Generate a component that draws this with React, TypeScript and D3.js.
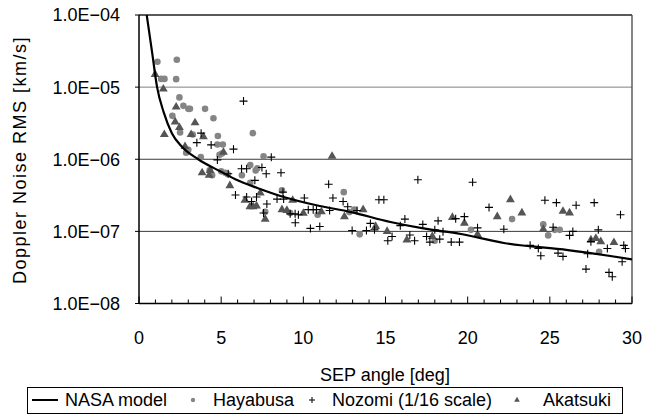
import React from "react";
import * as d3 from "d3";

const W = 651;
const H = 416;

const yTickValues = [1e-4, 1e-5, 1e-6, 1e-7, 1e-8];
const yTickLabels = ["1.0E\u221204", "1.0E\u221205", "1.0E\u221206", "1.0E\u221207", "1.0E\u221208"];
const xTickValues = [0, 5, 10, 15, 20, 25, 30];
const gridValues = [1e-5, 1e-6, 1e-7];

const legendLabels = ["NASA model", "Hayabusa", "Nozomi (1/16 scale)", "Akatsuki"];

// NASA model curve
const modelX = [0.47, 0.8, 1.1, 1.5, 2.0, 2.6, 3.6, 5.0, 6.0, 7.2, 8.8, 10.8, 12.9, 15.3, 17.3, 19.6, 22.2, 26.1, 30];
const modelY = [1e-4, 3e-5, 1e-5, 4.5e-6, 2.3e-6, 1.5e-6, 1.0e-6, 6.7e-7, 5.1e-7, 4.0e-7, 3.0e-7, 2.3e-7, 1.85e-7, 1.35e-7, 1.1e-7, 9.2e-8, 6.9e-8, 5.5e-8, 4.1e-8];

// Hayabusa (circles)
const hayabusaX = [1.12, 2.3, 1.35, 1.55, 2.26, 2.46, 2.7, 3.0, 3.1, 4.02, 2.03, 4.53, 2.5, 3.27, 4.8, 6.93, 4.77, 5.1, 2.87, 3.76, 4.9, 5.05, 7.58, 3.0, 4.3, 4.45, 5.0, 5.25, 5.4, 6.26, 6.77, 7.1, 7.2, 6.77, 8.7, 7.68, 12.46, 13.1, 12.8, 10.87, 9.2, 13.43, 17.99, 22.7, 20.2, 24.6, 24.9, 25.3, 25.6, 28.0];
const hayabusaY = [2.25e-5, 2.4e-5, 1.3e-5, 1.3e-5, 1.29e-5, 7.2e-6, 5.5e-6, 5e-6, 5e-6, 5e-6, 4e-6, 3.7e-6, 2.35e-6, 2.2e-6, 2.1e-6, 2.3e-6, 1.6e-6, 1.6e-6, 1.23e-6, 1.07e-6, 1.15e-6, 1.2e-6, 1.1e-6, 1.35e-6, 7e-7, 6e-7, 6.8e-7, 6.5e-7, 6.2e-7, 6e-7, 8.3e-7, 7.0e-7, 7.5e-7, 4.7e-7, 3.7e-7, 1.87e-7, 3.5e-7, 2e-7, 1.85e-7, 1.7e-7, 1.8e-7, 9.1e-8, 7.4e-8, 1.48e-7, 1.05e-7, 1.25e-7, 8.8e-8, 1.05e-7, 1.05e-7, 5.2e-8];

// Nozomi (crosses, 1/16 scale)
const nozomiX = [6.36, 3.78, 3.52, 4.39, 5.75, 8.05, 4.77, 5.43, 6.24, 6.55, 7.05, 5.87, 6.55, 7.15, 6.85, 7.48, 7.74, 8.64, 7.78, 8.4, 8.8, 8.76, 7.58, 9.2, 9.5, 9.7, 9.51, 11.54, 16.97, 10.06, 11.8, 12.42, 12.7, 14.6, 14.9, 10.3, 10.6, 10.8, 11.6, 10.43, 11.0, 13.27, 12.97, 13.84, 14.08, 14.33, 15.14, 15.4, 15.9, 16.18, 16.48, 16.77, 17.27, 17.5, 17.7, 18.2, 18.0, 18.3, 18.5, 19.0, 19.5, 19.27, 20.3, 21.3, 19.8, 22.2, 20.6, 24.7, 25.4, 26.6, 27.7, 29.3, 25.2, 26.4, 26.2, 23.8, 24.3, 24.45, 25.5, 25.8, 27.95, 27.5, 28.5, 27.3, 27.2, 28.6, 28.8, 29.4, 29.6, 29.5];
const nozomiY = [6.4e-6, 2.3e-6, 1.7e-6, 1.58e-6, 1.38e-6, 1.07e-6, 9.8e-7, 6.3e-7, 7.4e-7, 7.4e-7, 5.1e-7, 3.2e-7, 3.0e-7, 3.0e-7, 2.6e-7, 7.7e-7, 6.3e-7, 6.5e-7, 2.4e-7, 2.8e-7, 2.8e-7, 3.5e-7, 1.8e-7, 1.75e-7, 1.75e-7, 1.7e-7, 1.32e-7, 4.5e-7, 5.2e-7, 2.9e-7, 2.9e-7, 2.6e-7, 2.2e-7, 2.75e-7, 2.75e-7, 2e-7, 2e-7, 2e-7, 1.95e-7, 1.1e-7, 1.17e-7, 1.95e-7, 1.03e-7, 1.03e-7, 1.29e-7, 1.05e-7, 7.4e-8, 8.5e-8, 1.2e-7, 1.48e-7, 8.9e-8, 7.4e-8, 1.25e-7, 8.5e-8, 7.1e-8, 1.4e-7, 1.05e-7, 7.8e-8, 9.9e-8, 7.1e-8, 7.1e-8, 1.5e-7, 4.8e-7, 2.15e-7, 1.6e-7, 1.07e-7, 1.12e-7, 2.7e-7, 2.5e-7, 2.3e-7, 2.5e-7, 1.7e-7, 1.14e-7, 1.0e-7, 8.8e-8, 6.4e-8, 5.8e-8, 4.6e-8, 5e-8, 4.5e-8, 1.05e-7, 7.2e-8, 5.8e-8, 4.9e-8, 3e-8, 2.7e-8, 2.35e-8, 3.8e-8, 5.8e-8, 6.4e-8];

// Akatsuki (triangles)
const akatsukiX = [0.98, 1.48, 2.26, 2.2, 2.46, 3.41, 1.54, 3.17, 3.92, 2.8, 5.14, 3.84, 4.27, 4.33, 5.53, 6.45, 6.75, 6.95, 7.15, 7.38, 8.7, 9.0, 7.68, 9.35, 11.75, 10.0, 11.1, 12.5, 13.64, 14.4, 15.1, 16.3, 17.85, 19.07, 19.8, 20.6, 22.6, 21.8, 23.3, 25.8, 26.2, 24.6, 27.5, 27.8, 28.1, 28.9];
const akatsukiY = [1.5e-5, 9.4e-6, 5.3e-6, 3.3e-6, 2.75e-6, 3.2e-6, 2.2e-6, 2.2e-6, 2.05e-6, 1.5e-6, 1.25e-6, 6.5e-7, 6e-7, 7e-7, 4.3e-7, 2.7e-7, 2.2e-7, 2.2e-7, 2.25e-7, 3.4e-7, 2e-7, 1.95e-7, 1.48e-7, 2.7e-7, 1.1e-6, 1.78e-7, 1.87e-7, 1.6e-7, 2e-7, 1.17e-7, 1e-7, 7.6e-8, 8.5e-8, 1.56e-7, 1.3e-7, 9.1e-8, 2.75e-7, 1.6e-7, 1.8e-7, 1.9e-7, 1.8e-7, 1.07e-7, 7.6e-8, 8e-8, 7.2e-8, 7e-8];

const FONT = "'Liberation Sans', Arial, sans-serif";

export default function App() {
  const left = 139, right = 632, top = 15, bottom = 303.5;
  const x = d3.scaleLinear().domain([0, 30]).range([left, right]);
  const y = d3.scaleLog().domain([1e-8, 1e-4]).range([bottom, top]);

  const modelPts: [number, number][] = modelX.map((v, i) => [v, modelY[i]]);
  const line = d3
    .line<[number, number]>()
    .x((d) => x(d[0]))
    .y((d) => y(d[1]))
    .curve(d3.curveMonotoneX);

  const tri = d3.symbol().type(d3.symbolTriangle).size(34)() as string;
  const triSmall = d3.symbol().type(d3.symbolTriangle).size(14)() as string;

  const minorTicks = d3.range(0, 31, 1);

  const legendY = 400;

  return (
    <svg width={W} height={H} style={{ position: "absolute", left: 0, top: 0, background: "#fff" }}
      fontFamily={FONT}>
      <rect x={0} y={0} width={W} height={H} fill="#fff" />
      <defs>
        <clipPath id="plot">
          <rect x={left} y={top} width={right - left} height={bottom - top} />
        </clipPath>
      </defs>
      {/* gridlines */}
      {gridValues.map((g, i) => (
        <line key={"g" + i} x1={left} x2={right} y1={y(g)} y2={y(g)}
          stroke={i === 0 ? "#808080" : "#3a3a3a"} strokeWidth={1} />
      ))}
      {/* plot border top/right */}
      <line x1={left} x2={right} y1={top} y2={top} stroke="#222" strokeWidth={1.3} />
      <line x1={right} x2={right} y1={top} y2={bottom} stroke="#444" strokeWidth={1.3} />
      {/* axes */}
      <line x1={left} x2={left} y1={top} y2={bottom} stroke="#000" strokeWidth={1.5} />
      <line x1={left} x2={right} y1={bottom} y2={bottom} stroke="#000" strokeWidth={1.5} />
      {/* x ticks (inside, upward) */}
      {minorTicks.map((t) => (
        <line key={"xt" + t} x1={x(t)} x2={x(t)} y1={bottom} y2={bottom - (t % 5 === 0 ? 7 : 4)}
          stroke="#000" strokeWidth={1} />
      ))}
      {/* y ticks */}
      {yTickValues.map((t, i) => (
        <line key={"yt" + i} x1={left - 4} x2={left} y1={y(t)} y2={y(t)} stroke="#000" strokeWidth={1} />
      ))}
      {/* y tick labels */}
      {yTickValues.map((t, i) => (
        <text key={"yl" + i} x={120} y={y(t)} dy="0.36em" textAnchor="end" fontSize={18} fill="#000">
          {yTickLabels[i]}
        </text>
      ))}
      {/* x tick labels */}
      {xTickValues.map((t) => (
        <text key={"xl" + t} x={x(t)} y={344} textAnchor="middle" fontSize={18} fill="#000">
          {t}
        </text>
      ))}
      {/* axis titles */}
      <text x={385} y={381} textAnchor="middle" fontSize={18} fill="#000">SEP angle [deg]</text>
      <text transform={`translate(26,160) rotate(-90)`} textAnchor="middle" fontSize={18} fill="#000"
        letterSpacing={1.5}>
        Doppler Noise RMS [km/s]
      </text>

      {/* data */}
      <g clipPath="url(#plot)">
        {hayabusaX.map((v, i) => (
          <circle key={"h" + i} cx={x(v)} cy={y(hayabusaY[i])} r={3.3} fill="#858585" />
        ))}
        {akatsukiX.map((v, i) => (
          <path key={"a" + i} d={tri} transform={`translate(${x(v)},${y(akatsukiY[i])})`} fill="#555" />
        ))}
        {nozomiX.map((v, i) => (
          <path key={"n" + i} d="M-4,0H4M0,-4V4" transform={`translate(${x(v)},${y(nozomiY[i])})`}
            stroke="#000" strokeWidth={1.1} fill="none" />
        ))}
        <path d={line(modelPts) || ""} fill="none" stroke="#000" strokeWidth={2.2} />
      </g>

      {/* legend */}
      <rect x={27.5} y={387.5} width={595} height={26} fill="#fff" stroke="#000" strokeWidth={1} />
      <line x1={32} x2={58} y1={legendY} y2={legendY} stroke="#000" strokeWidth={2} />
      <text x={65} y={legendY} dy="0.36em" fontSize={18}>{legendLabels[0]}</text>
      <circle cx={193} cy={legendY} r={2.2} fill="#858585" />
      <text x={213} y={legendY} dy="0.36em" fontSize={18}>{legendLabels[1]}</text>
      <path d="M-3,0H3M0,-3V3" transform={`translate(312,${legendY})`} stroke="#000" strokeWidth={1} />
      <text x={332} y={legendY} dy="0.36em" fontSize={18}>{legendLabels[2]}</text>
      <path d={triSmall} transform={`translate(517,${legendY})`} fill="#555" />
      <text x={543} y={legendY} dy="0.36em" fontSize={18}>{legendLabels[3]}</text>
    </svg>
  );
}
